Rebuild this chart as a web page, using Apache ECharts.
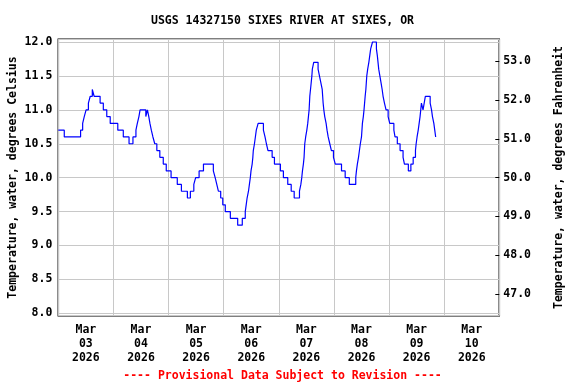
<!DOCTYPE html>
<html>
<head>
<meta charset="utf-8">
<script src="https://cdn.jsdelivr.net/npm/echarts@6/dist/echarts.min.js"></script>
<style>html,body{margin:0;padding:0;background:#fff}#c{width:576px;height:384px}</style>
</head>
<body>
<div id="c"></div>
<script>
// Day labels (each day is one band between midnight grid lines)
var dayLabels = ['Mar\n03\n2026','Mar\n04\n2026','Mar\n05\n2026','Mar\n06\n2026','Mar\n07\n2026','Mar\n08\n2026','Mar\n09\n2026','Mar\n10\n2026'];
// Hours since 2026-03-03 00:00 at which the reading changes
var hours = [0,2.6,9.7,10.6,11.3,12.1,13.1,13.9,14.8,15.6,18.2,19.6,21.1,22.6,25.9,28.3,30.8,32.5,33.8,34.4,35.1,35.6,38.1,38.8,39.4,39.9,40.5,41.2,42.0,42.9,44.2,45.7,47.0,49.1,51.8,53.6,56.2,57.5,59.0,59.8,61.3,63.2,67.5,68.3,69.0,69.7,70.7,71.6,72.7,74.9,78.1,80.1,81.4,81.8,82.2,82.8,83.2,83.6,83.9,84.4,84.7,84.9,85.4,85.8,86.2,87.0,89.3,90.0,90.6,91.3,93.1,94.1,96.7,98.0,99.9,101.4,102.7,105.0,105.6,106.0,106.3,106.7,107.0,107.3,107.7,108.2,108.6,108.9,109.2,109.5,109.8,110.1,110.4,110.6,111.2,113.1,113.7,114.3,114.9,115.1,115.3,115.6,116.0,116.6,117.0,117.5,118.2,118.9,119.8,120.6,123.3,124.9,126.7,129.5,129.8,130.2,130.7,131.1,131.5,132.0,132.4,132.8,133.1,133.6,133.9,134.3,134.7,135.2,135.6,136.0,136.8,138.5,138.9,139.2,139.5,140.0,140.5,141.0,141.4,142.0,142.7,143.6,144.3,146.1,146.6,147.6,148.8,150.1,150.7,152.4,153.5,154.5,155.5,155.8,156.2,156.7,157.1,157.5,157.8,158.1,158.8,159.3,159.8,161.9,162.5,162.9,163.5,163.9,164.3,164.5];
// Water temperature, degrees Celsius
var tempC = [10.7,10.6,10.7,10.8,10.9,11.0,11.1,11.2,11.3,11.2,11.1,11.0,10.9,10.8,10.7,10.6,10.5,10.6,10.7,10.8,10.9,11.0,10.9,11.0,10.9,10.8,10.7,10.6,10.5,10.4,10.3,10.2,10.1,10.0,9.9,9.8,9.7,9.8,9.9,10.0,10.1,10.2,10.1,10.0,9.9,9.8,9.7,9.6,9.5,9.4,9.3,9.4,9.5,9.6,9.7,9.8,9.9,10.0,10.1,10.2,10.3,10.4,10.5,10.6,10.7,10.8,10.7,10.6,10.5,10.4,10.3,10.2,10.1,10.0,9.9,9.8,9.7,9.8,9.9,10.0,10.1,10.2,10.3,10.5,10.6,10.7,10.8,10.9,11.0,11.2,11.3,11.4,11.5,11.6,11.7,11.6,11.5,11.4,11.3,11.2,11.1,11.0,10.9,10.8,10.7,10.6,10.5,10.4,10.3,10.2,10.1,10.0,9.9,10.0,10.1,10.2,10.3,10.4,10.5,10.6,10.8,10.9,11.0,11.2,11.3,11.5,11.6,11.7,11.8,11.9,12.0,11.9,11.8,11.7,11.6,11.5,11.4,11.3,11.2,11.1,11.0,10.9,10.8,10.7,10.6,10.5,10.4,10.3,10.2,10.1,10.2,10.3,10.4,10.5,10.6,10.7,10.8,10.9,11.0,11.1,11.0,11.1,11.2,11.1,11.0,10.9,10.8,10.7,10.6,10.6];

var FONT = 'DejaVu Sans Mono';
var txt = {fontFamily: FONT, fontWeight: 'bold', fontSize: 11.5, color: '#000'};
var pts = hours.map(function(h, i){ return [h, tempC[i]]; });

var chart = echarts.init(document.getElementById('c'), null, {renderer: 'canvas'});
chart.setOption({
  animation: false,
  backgroundColor: '#fff',
  title: [
    {text: 'USGS 14327150 SIXES RIVER AT SIXES, OR', left: 277.5, top: 10, textAlign: 'center',
     textStyle: Object.assign({}, txt)},
    {text: '---- Provisional Data Subject to Revision ----', left: 277.5, top: 365, textAlign: 'center',
     textStyle: Object.assign({}, txt, {color: '#ff0000'})}
  ],
  grid: {left: 58.3, right: 76.7, top: 39.3, bottom: 68.3, show: true, borderColor: '#000', borderWidth: 1.5,
         backgroundColor: 'transparent', containLabel: false, outerBoundsMode: 'none'},
  xAxis: [
    {type: 'category', data: dayLabels, boundaryGap: true, position: 'bottom',
     axisLine: {show: false}, axisTick: {show: false},
     splitLine: {show: true, lineStyle: {color: '#c8c8c8', width: 1}},
     axisLabel: Object.assign({}, txt, {margin: 7, lineHeight: 14, interval: 0})},
    {type: 'value', min: 0, max: 192, show: false}
  ],
  yAxis: [
    {type: 'value', position: 'left', min: 7.965, max: 12.04, splitNumber: 8,
     name: 'Temperature, water, degrees Celsius', nameLocation: 'middle', nameGap: 39, nameRotate: 90,
     nameMoveOverlap: false,
     nameTextStyle: Object.assign({}, txt),
     axisLine: {show: false}, axisTick: {show: false},
     splitLine: {show: true, lineStyle: {color: '#c8c8c8', width: 1}},
     axisLabel: Object.assign({}, txt, {margin: 6, showMinLabel: false, showMaxLabel: false,
       formatter: function(v){ return v.toFixed(1); }})},
    {type: 'value', position: 'right', min: 46.443, max: 53.567, splitNumber: 7,
     name: 'Temperature, water, degrees Fahrenheit', nameLocation: 'middle', nameGap: 54, nameRotate: 90,
     nameMoveOverlap: false,
     nameTextStyle: Object.assign({}, txt),
     axisLine: {show: false},
     axisTick: {show: true, inside: true, length: 4, lineStyle: {color: '#000', width: 1}},
     splitLine: {show: false},
     axisLabel: Object.assign({}, txt, {margin: 4, showMinLabel: false, showMaxLabel: false,
       formatter: function(v){ return v.toFixed(1); }})}
  ],
  series: [{
    type: 'line', xAxisIndex: 1, yAxisIndex: 0, data: pts, step: 'end',
    showSymbol: false, symbol: 'none',
    lineStyle: {color: '#0000ff', width: 1.2}
  }]
});
</script>
</body>
</html>
